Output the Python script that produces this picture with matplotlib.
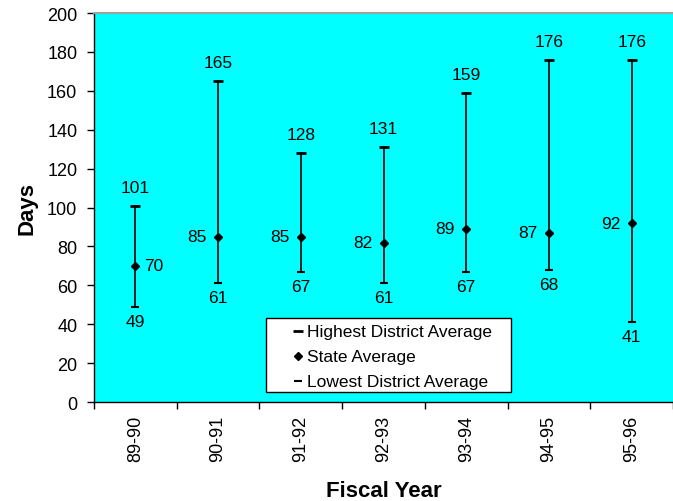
import matplotlib
matplotlib.use("Agg")
import matplotlib.pyplot as plt
from matplotlib.patches import Rectangle

plt.rcParams['font.family'] = ['Liberation Sans', 'DejaVu Sans']

years = ["89-90", "90-91", "91-92", "92-93", "93-94", "94-95", "95-96"]
highest = [101, 165, 128, 131, 159, 176, 176]
state = [70, 85, 85, 82, 89, 87, 92]
lowest = [49, 61, 67, 61, 67, 68, 41]
legend_labels = ['Highest District Average', 'State Average', 'Lowest District Average']

fig = plt.figure(figsize=(6.73, 5.02), dpi=100)
ax = fig.add_axes([0.1397, 0.197, 0.8603, 0.775])
ax.set_facecolor('#00FFFF')

high_style = dict(marker='_', ms=7, mew=2, color='black')
low_style = dict(marker='_', ms=6, mew=1.5, color='black')
state_style = dict(marker='D', ms=4.5, color='black')

x = list(range(len(years)))
for i in x:
    ax.plot([i, i], [lowest[i], highest[i]], color='black', lw=1.2, zorder=3)
ax.plot(x, highest, ls='none', zorder=4, **high_style)
ax.plot(x, lowest, ls='none', zorder=4, **low_style)
ax.plot(x, state, ls='none', zorder=5, **state_style)

fs = 12.5
for i in x:
    ax.annotate(str(highest[i]), (i, highest[i]), xytext=(0, 8), textcoords='offset points',
                ha='center', va='bottom', fontsize=fs)
    ax.annotate(str(lowest[i]), (i, lowest[i]), xytext=(0, -5), textcoords='offset points',
                ha='center', va='top', fontsize=fs)
    if i == 0:
        ax.annotate(str(state[i]), (i, state[i]), xytext=(6, 0), textcoords='offset points',
                    ha='left', va='center', fontsize=fs)
    else:
        ax.annotate(str(state[i]), (i, state[i]), xytext=(-8, 0), textcoords='offset points',
                    ha='right', va='center', fontsize=fs)

ax.set_xlim(-0.5, len(years) - 0.5)
ax.set_ylim(0, 200)
ax.set_yticks(range(0, 201, 20))
ax.tick_params(axis='y', direction='out', length=5, labelsize=13, width=1, pad=7)
ax.set_xticks([i - 0.5 for i in range(len(years) + 1)])
ax.set_xticklabels([])
ax.set_xticks(x, minor=True)
ax.set_xticklabels(years, minor=True, rotation=90, fontsize=13)
ax.tick_params(axis='x', which='major', direction='out', length=5, width=1)
ax.tick_params(axis='x', which='minor', length=0, pad=9)

ax.spines['right'].set_visible(False)
ax.spines['top'].set_color('#a0a0a0')
ax.spines['top'].set_linewidth(1.5)
ax.spines['left'].set_linewidth(1)
ax.spines['bottom'].set_linewidth(1)

ax.set_ylabel('Days', fontsize=16, fontweight='bold', labelpad=7)
ax.set_xlabel('Fiscal Year', fontsize=16, fontweight='bold', labelpad=14)

# legend box drawn in axes coordinates
tr = ax.transAxes
ax.add_patch(Rectangle((0.297, 0.026), 0.423, 0.190, transform=tr, facecolor='white',
                       edgecolor='black', lw=1, zorder=6))
row_y = [0.1825, 0.118, 0.054]
styles = [high_style, state_style, low_style]
for yy, st, lab in zip(row_y, styles, legend_labels):
    ax.plot([0.353], [yy], ls='none', transform=tr, zorder=7, clip_on=False, **st)
    ax.text(0.367, yy, lab, transform=tr, fontsize=fs, ha='left', va='center', zorder=7)

fig.savefig('out.png', dpi=100)
